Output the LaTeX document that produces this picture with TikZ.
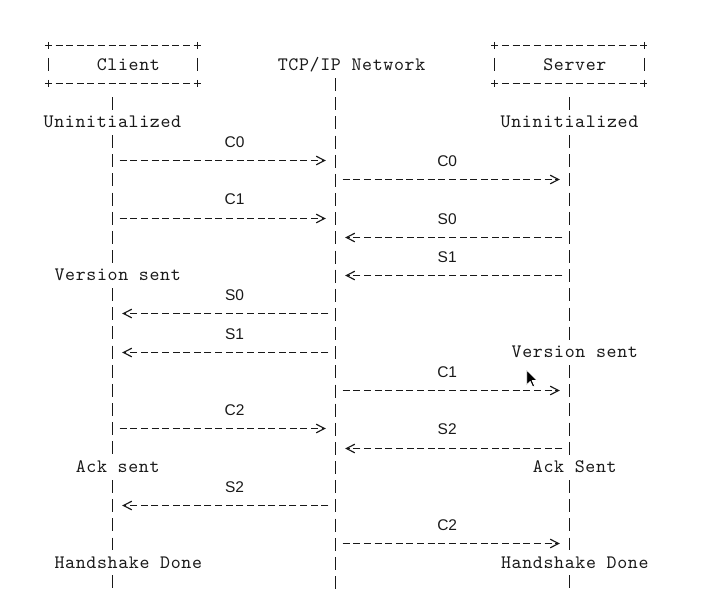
\documentclass[tikz,border=0pt]{standalone}
\usepackage{fontspec}
\usetikzlibrary{arrows.meta}
% typewriter face widened to a 10.63pt character cell
\newfontfamily\asciifont{lmmono10-regular.otf}[LetterSpace=3.45]
\newfontfamily\tagfont{Liberation Sans}
\definecolor{ink}{RGB}{25,25,25}
\begin{document}
\begin{tikzpicture}[x=1pt,y=-1pt,
  txt/.style={font=\asciifont\fontsize{19}{19}\selectfont, text=ink, inner sep=0pt, anchor=base},
  tag/.style={font=\tagfont\fontsize{15.5}{18}\selectfont, text=ink, inner sep=0pt, anchor=center},
  boxnode/.style={font=\asciifont\fontsize{19}{19}\selectfont, text=ink, inner sep=0pt,
    minimum width=148.8pt, minimum height=38pt},
  hedge/.style={draw=ink, line width=1.15pt, dash pattern=on 7pt off 3.63pt},
  vedge/.style={draw=ink, line width=1.15pt, dash pattern=on 7pt off 9pt on 13pt off 9pt},
  life/.style={draw=ink, line width=1.15pt, dash pattern=on 13pt off 6.15pt,
    shorten <=12.65pt, shorten >=12.65pt},
  msg/.style={draw=ink, line width=1.15pt, dash pattern=on 7pt off 3.63pt,
    shorten <=7.13pt, shorten >=6.1pt,
    -{Straight Barb[length=8.3pt, width=8.6pt, sep=3.63pt]}},
]
\useasboundingbox (0,0) rectangle (715,614);

% lifeline points, one per text row (kept on pixel centres)
\foreach \r in {0,...,29} {
  \pgfmathsetmacro\yy{floor(45.9+19.15*\r)+0.5}
  \coordinate (C\r) at (112.5,\yy);
  \coordinate (N\r) at (335.5,\yy);
  \coordinate (S\r) at (569.5,\yy);
}

% participant boxes
\node[boxnode] (client) at (123.0,64.5) {\hspace*{10.63pt}Client};
\node[boxnode] (server) at (569.5,64.5) {\hspace*{10.63pt}Server};
\foreach \b in {client,server} {
  \draw[hedge] ([xshift=-3.5pt]\b.north west) -- ([xshift=3.5pt]\b.north east);
  \draw[hedge] ([xshift=-3.5pt]\b.south west) -- ([xshift=3.5pt]\b.south east);
  \draw[vedge] ([yshift=3.5pt]\b.north west) -- ([yshift=-3.5pt]\b.south west);
  \draw[vedge] ([yshift=3.5pt]\b.north east) -- ([yshift=-3.5pt]\b.south east);
}
\node[txt] (network) at (351.6,70.25) {TCP/IP Network};

% states
\node[txt] (cUninit)  at (112.4,127.7) {Uninitialized};
\node[txt] (sUninit)  at (569.5,127.7) {Uninitialized};
\node[txt] (cVersion) at (117.7,280.9) {Version sent};
\node[txt] (sVersion) at (574.8,357.5) {Version sent};
\node[txt] (cAck)     at (117.7,472.4) {Ack sent};
\node[txt] (sAck)     at (574.8,472.4) {Ack Sent};
\node[txt] (cDone)    at (128.3,568.15) {Handshake Done};
\node[txt] (sDone)    at (574.8,568.15) {Handshake Done};

% lifelines, broken where a state is written
\draw[life] (C2) -- (C4);
\draw[life] (C4) -- (C12);
\draw[life] (C12) -- (C22);
\draw[life] (C22) -- (C27);
\draw[life] (C27) -- (C29);
\draw[life] (N1) -- (N29);
\draw[life] (S2) -- (S4);
\draw[life] (S4) -- (S16);
\draw[life] (S16) -- (S22);
\draw[life] (S22) -- (S27);
\draw[life] (S27) -- (S29);

% messages
\draw[msg] (C6) -- (N6);
\draw[msg] (N7) -- (S7);
\draw[msg] (C9) -- (N9);
\draw[msg] (S10) -- (N10);
\draw[msg] (S12) -- (N12);
\draw[msg] (N14) -- (C14);
\draw[msg] (N16) -- (C16);
\draw[msg] (N18) -- (S18);
\draw[msg] (C20) -- (N20);
\draw[msg] (S21) -- (N21);
\draw[msg] (N24) -- (C24);
\draw[msg] (N26) -- (S26);

% message names
\node[tag] (tC0a) at (234.6,142.2) {C0};
\node[tag] (tC0b) at (447.2,161.4) {C0};
\node[tag] (tC1a) at (234.6,199.6) {C1};
\node[tag] (tS0b) at (447.2,218.8) {S0};
\node[tag] (tS1b) at (447.2,257.1) {S1};
\node[tag] (tS0a) at (234.6,295.4) {S0};
\node[tag] (tS1a) at (234.6,333.7) {S1};
\node[tag] (tC1b) at (447.2,372.0) {C1};
\node[tag] (tC2a) at (234.6,410.3) {C2};
\node[tag] (tS2b) at (447.2,429.4) {S2};
\node[tag] (tS2a) at (234.6,487.0) {S2};
\node[tag] (tC2b) at (447.2,525.3) {C2};

% pointer
\filldraw[fill=black, draw=white, line width=0.8pt, line join=round]
  (526.7,370) -- (526.7,385) -- (530.2,381.5) -- (532.7,387) -- (534.7,386)
  -- (532.2,380.5) -- (537.2,380.5) -- cycle;
\end{tikzpicture}
\end{document}
